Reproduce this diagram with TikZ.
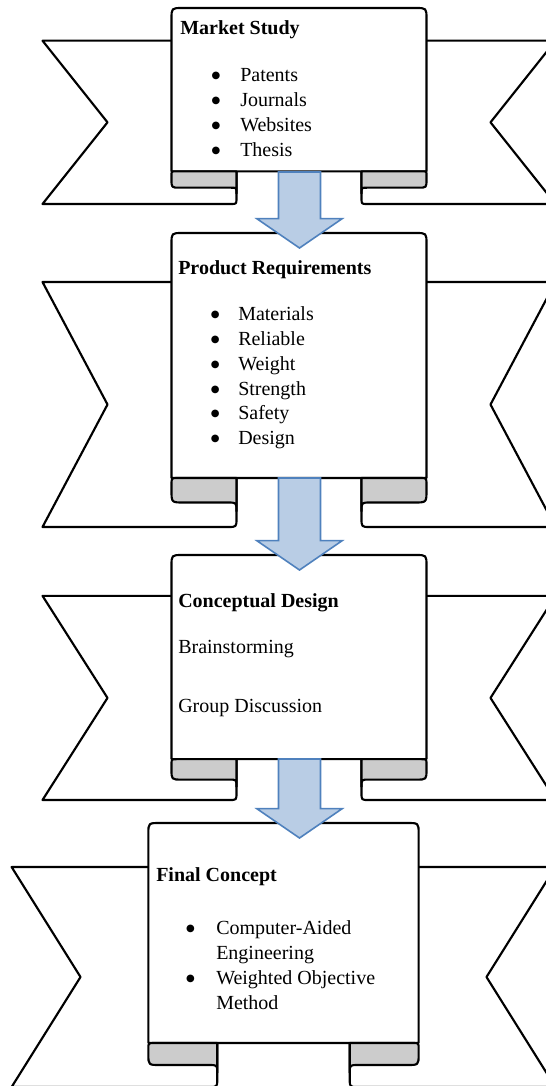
\documentclass[tikz,border=0pt]{standalone}
\usepackage{fontspec}
\setmainfont{Liberation Serif}
\newfontfamily\dotfont{DejaVu Sans}
\usetikzlibrary{calc}

\definecolor{foldgray}{HTML}{CCCCCC}
\definecolor{flowfill}{HTML}{B9CDE5}
\definecolor{flowline}{HTML}{4F81BD}

\tikzstyle{ribbon} = [draw=black, line width=1.6pt, fill=white, line join=round]
\tikzstyle{fold} = [draw=black, line width=1.6pt, fill=foldgray, line join=round]
\tikzstyle{heading} = [anchor=base west, inner sep=0pt, font=\fontsize{15}{18}\selectfont\bfseries]
\tikzstyle{entry} = [anchor=base west, inner sep=0pt]
\tikzstyle{flow} = [draw=flowline, line width=1.2pt, fill=flowfill]

% bullet in front of a list entry
\newcommand{\itemdot}[1]{\llap{\raisebox{1.6pt}{\dotfont\fontsize{7.5}{8}\selectfont ●}\hspace{#1}}}

% one wing and one rolled fold, right half (mirror with xscale=-1)
\newcommand{\wing}{\draw[ribbon] (62.5,\bA) -- (256.5,\bA) -- (191.5,\bM) -- (256.5,\bB) -- ({62.5+\bs},\bB) .. controls (62.5,\bB) .. (62.5,{\bB-\bs}) -- cycle;}
\newcommand{\fold}{\draw[fold] (62.5,\bG) -- ({127.5-\br/2},\bG) .. controls (127.5,\bG) .. (127.5,{\bG+\br/2}) -- (127.5,{\bH-\br}) .. controls (127.5,\bH) .. ({127.5-\br},\bH) -- ({62.5+\bs},\bH) .. controls (62.5,\bH) .. (62.5,{\bH+\bs}) -- cycle;}

% #1 centre x, #2 top, #3 bottom, #4 width factor
\newcommand{\banner}[4]{%
  \pgfmathsetmacro{\bT}{#2}
  \pgfmathsetmacro{\bB}{#3}
  \pgfmathsetmacro{\bA}{\bT+(\bB-\bT)/6}
  \pgfmathsetmacro{\bG}{\bB-(\bB-\bT)/6}
  \pgfmathsetmacro{\bH}{(\bG+\bB)/2}
  \pgfmathsetmacro{\bM}{(\bA+\bB)/2}
  \pgfmathsetmacro{\br}{(\bH-\bG)/2}
  \pgfmathsetmacro{\bs}{(\bB-\bH)/2.8}
  \begin{scope}[shift={(#1,0)}, xscale=#4]
    \begin{scope}[xscale=-1]\wing\end{scope}
    \wing
    \draw[ribbon] (-127.5,\bG) -- (-127.5,{\bT+11}) .. controls (-127.5,\bT) .. (-116.5,\bT) -- (116.5,\bT) .. controls (127.5,\bT) .. (127.5,{\bT+11}) -- (127.5,\bG) -- cycle;
    \begin{scope}[xscale=-1]\fold\end{scope}
    \fold
  \end{scope}}

% block arrow from #1 (tail) to #2 (tip)
\newcommand{\flowarrow}[2]{\draw[flow] let \p1=(#1), \p2=(#2) in (\x1-15.75pt,\y1) -- (\x1-15.75pt,\y2+22pt) -- (\x1-32pt,\y2+22pt) -- (\x2,\y2) -- (\x1+32pt,\y2+22pt) -- (\x1+15.75pt,\y2+22pt) -- (\x1+15.75pt,\y1) -- cycle;}

\begin{document}
\begin{tikzpicture}[x=0.75pt, y=-0.75pt, font=\fontsize{15}{18}\selectfont]
\useasboundingbox (0,0) rectangle (546,1086);

% Market Study
\banner{299}{8}{204}{1}
\node[heading] (study) at (180,34) {Market Study};
\node[entry] (patents) at (240,81) {\itemdot{15pt}Patents};
\node[entry] (journals) at (240,106) {\itemdot{15pt}Journals};
\node[entry] (websites) at (240,131) {\itemdot{15pt}Websites};
\node[entry] (thesis) at (240,156) {\itemdot{15pt}Thesis};

% Product Requirements
\banner{299}{233}{527}{1}
\node[heading] (req) at (178,274) {Product Requirements};
\node[entry] (materials) at (238,320) {\itemdot{14pt}Materials};
\node[entry] (reliable) at (238,345) {\itemdot{14pt}Reliable};
\node[entry] (weight) at (238,370) {\itemdot{14pt}Weight};
\node[entry] (strength) at (238,395) {\itemdot{14pt}Strength};
\node[entry] (safety) at (238,419) {\itemdot{14pt}Safety};
\node[entry] (design) at (238,444) {\itemdot{14pt}Design};

% Conceptual Design
\banner{299}{555}{800}{1}
\node[heading] (concept) at (178,607) {Conceptual Design};
\node[entry] (brain) at (178,653) {Brainstorming};
\node[entry] (group) at (178,712) {Group Discussion};

% Final Concept
\banner{283.5}{823}{1087}{1.06}
\node[heading] (final) at (156,881) {Final Concept};
\node[entry] (cae) at (216,934) {\itemdot{16pt}Computer-Aided};
\node[entry] (eng) at (216,959) {Engineering};
\node[entry] (wom) at (216,984) {\itemdot{16pt}Weighted Objective};
\node[entry] (method) at (216,1009) {Method};

\coordinate (study-out) at (299.5,172);
\coordinate (req-in) at (299.5,248);
\coordinate (req-out) at (299.5,478);
\coordinate (concept-in) at (299.5,570);
\coordinate (concept-out) at (299.5,759);
\coordinate (final-in) at (299.5,838);

\flowarrow{study-out}{req-in}
\flowarrow{req-out}{concept-in}
\flowarrow{concept-out}{final-in}
\end{tikzpicture}
\end{document}
